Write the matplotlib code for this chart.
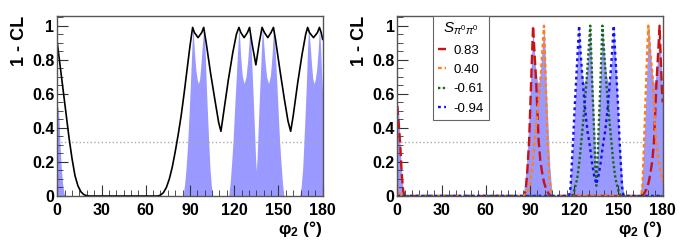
import matplotlib
matplotlib.use('Agg')
import matplotlib.pyplot as plt
from matplotlib.ticker import MultipleLocator

plt.rcParams['font.family'] = ['Liberation Sans', 'DejaVu Sans']
plt.rcParams['mathtext.fontset'] = 'custom'
plt.rcParams['mathtext.rm'] = 'Liberation Sans'
plt.rcParams['mathtext.it'] = 'Liberation Sans:italic'
plt.rcParams['mathtext.bf'] = 'Liberation Sans:bold'

# phi2 scan
fill_x = [0, 0.6, 1.2, 1.8, 2.6, 3.5, 4.5, 5.2,
          85.3, 86.5, 87.5, 88.5, 89.5, 90.5, 91.3, 92, 93, 94, 95, 95.8, 96.6, 97.5, 98.5, 99.5,
          100.3, 101, 101.8, 102.7, 103.5, 104.5, 105.5,
          116.3, 117.3, 118.3, 119.2, 120.2, 121.3, 122.3, 123.3, 124.3, 125.4, 126.7, 128, 129.2,
          130.2, 130.9, 131.8, 132.8, 133.8, 134.5, 135, 135.5, 136.2, 137.2, 138.2, 139.1, 139.8,
          140.8, 142, 143.3, 144.6, 145.7, 146.8, 147.8, 148.8, 149.8, 150.8, 151.7, 152.7, 153.7,
          164.5, 165.5, 166.5, 167.3, 168.2, 169, 169.7, 170.5, 171.4, 172.4, 173.3, 174.1, 174.9,
          175.9, 176.9, 177.9, 178.6, 179.4, 180]
fill_y = [0.53, 0.52, 0.45, 0.32, 0.18, 0.08, 0.02, 0,
          0, 0.08, 0.18, 0.32, 0.5, 0.7, 0.87, 1.0, 0.85, 0.74, 0.68, 0.66, 0.69, 0.78, 0.9, 1.0,
          0.85, 0.67, 0.5, 0.32, 0.17, 0.06, 0,
          0, 0.08, 0.2, 0.32, 0.5, 0.68, 0.85, 1.0, 0.83, 0.71, 0.66, 0.7, 0.8,
          0.92, 1.0, 0.8, 0.6, 0.38, 0.22, 0.15, 0.22, 0.38, 0.6, 0.8, 1.0, 0.92,
          0.8, 0.7, 0.66, 0.71, 0.83, 1.0, 0.85, 0.68, 0.5, 0.32, 0.2, 0.08, 0,
          0, 0.06, 0.17, 0.32, 0.5, 0.67, 0.85, 1.0, 0.9, 0.78, 0.69, 0.66, 0.68,
          0.74, 0.85, 1.0, 0.87, 0.7, 0.6]

black_x = [0, 2, 4, 6, 8, 10, 12, 14, 16, 18, 20, 22, 68, 70, 72, 74, 76, 78, 80, 82, 84, 86, 88, 90,
           91.8, 93, 95.5, 98, 99.3, 101, 104, 107, 109.5, 111, 113, 116, 119, 121.5, 123.2, 124.5,
           126.7, 129, 130.4, 132, 134.7, 137, 138.9, 140.5, 142.8, 145, 146.6, 148, 151, 154, 156.5,
           158.3, 160, 163, 166, 168.5, 169.8, 171, 173.8, 176.5, 177.8, 179, 180]
black_y = [0.9, 0.76, 0.62, 0.48, 0.34, 0.22, 0.12, 0.06, 0.025, 0.008, 0.002, 0, 0, 0.005, 0.02, 0.05,
           0.1, 0.17, 0.26, 0.36, 0.47, 0.6, 0.74, 0.88,
           0.99, 0.96, 0.93, 0.96, 0.99, 0.9, 0.72, 0.56, 0.43, 0.38, 0.5, 0.68, 0.84, 0.95, 0.99, 0.96,
           0.93, 0.96, 0.99, 0.9, 0.77, 0.9, 0.99, 0.96, 0.93, 0.96, 0.99, 0.92, 0.74, 0.57, 0.44,
           0.38, 0.47, 0.66, 0.83, 0.95, 0.99, 0.96, 0.93, 0.96, 0.99, 0.96, 0.92]

red_x = [0, 1, 2, 3, 4, 5, 86, 87, 88, 89.4, 90.5, 91.3, 92.1, 93.2, 94.3, 95.1, 95.9, 97, 98.2, 99.5,
         101, 102.5, 104, 166, 167.5, 169, 170.5, 171.8, 173, 174.1, 174.9, 175.7, 176.8, 177.9,
         178.7, 179.5, 180]
red_y = [0.53, 0.42, 0.3, 0.13, 0.03, 0, 0, 0.03, 0.12, 0.32, 0.6, 0.8, 1.0, 0.82, 0.65, 0.48, 0.32,
         0.21, 0.14, 0.08, 0.04, 0.015, 0, 0, 0.015, 0.04, 0.08, 0.14, 0.21, 0.32, 0.48, 0.65, 0.82,
         1.0, 0.8, 0.62, 0.55]

orange_x = [0, 1, 2, 3, 85.5, 88, 90, 92, 93.2, 94.5, 95.5, 96.8, 98, 99.5, 100.5, 101.8, 103, 104.5,
            165.5, 166.3, 167.4, 168.5, 169.5, 170.3, 171.5, 173.2, 174.3, 175.5, 177, 178.5, 180]
orange_y = [0.06, 0.03, 0.01, 0, 0, 0.02, 0.07, 0.2, 0.32, 0.44, 0.52, 0.65, 0.8, 1.0, 0.72, 0.32,
            0.12, 0, 0, 0.06, 0.32, 0.6, 0.85, 1.0, 0.85, 0.7, 0.5, 0.32, 0.22, 0.15, 0.08]

green_x = [0, 118.5, 120, 122, 123.5, 124.8, 126, 127, 128.3, 129.5, 130.9, 131.7, 132.5, 133.5, 134.3,
           135, 135.7, 136.5, 137.5, 138.3, 139.1, 140.5, 141.7, 143, 144, 145.2, 146.5, 148, 150,
           151.5, 180]
green_y = [0, 0, 0.03, 0.1, 0.2, 0.32, 0.43, 0.53, 0.67, 0.82, 1.0, 0.8, 0.6, 0.38, 0.18,
           0.06, 0.18, 0.38, 0.6, 0.8, 1.0, 0.82, 0.67, 0.53, 0.43, 0.32, 0.2, 0.1, 0.03,
           0, 0]

blue_x = [0, 116.5, 117.5, 118.3, 119.2, 120.2, 121.3, 122.3, 123.3, 124.5, 126, 127.5, 129, 130.5,
          132, 133.5, 135, 136.5, 138, 139.5, 141, 142.5, 144, 145.5, 146.8, 147.8, 148.8, 149.9,
          150.8, 151.7, 152.5, 153.5, 180]
blue_y = [0, 0, 0.05, 0.18, 0.32, 0.5, 0.68, 0.84, 1.0, 0.82, 0.65, 0.5, 0.38, 0.3,
          0.2, 0.12, 0.07, 0.12, 0.2, 0.3, 0.38, 0.5, 0.65, 0.82, 1.0, 0.84, 0.68, 0.5,
          0.32, 0.18, 0.05, 0, 0]

legend_labels = ['0.83', '0.40', '-0.61', '-0.94']
cl_1sigma = 0.317

x_ticks = [0, 30, 60, 90, 120, 150, 180]
y_ticks = [0, 0.2, 0.4, 0.6, 0.8, 1.0]
y_labels = ['0', '0.2', '0.4', '0.6', '0.8', '1']

fig = plt.figure(figsize=(6.81, 2.45), dpi=100)
ax1 = fig.add_axes([0.0841, 0.2, 0.3897, 0.7347])
ax2 = fig.add_axes([0.5834, 0.2, 0.3897, 0.7347])

for ax in [ax1, ax2]:
    ax.fill_between(fill_x, 0, fill_y, color='#9999ff', lw=0)
    ax.axhline(cl_1sigma, color='#aaaaaa', ls=':', lw=1)
    ax.set_xlim(0, 180)
    ax.set_ylim(0, 1.057)
    ax.set_xticks(x_ticks)
    ax.set_yticks(y_ticks)
    ax.set_yticklabels(y_labels)
    ax.xaxis.set_minor_locator(MultipleLocator(5))
    ax.yaxis.set_minor_locator(MultipleLocator(0.05))
    ax.tick_params(which='both', direction='in', top=False, right=False, color='#333333')
    ax.tick_params(which='major', length=8, width=0.8, labelsize=11.5)
    ax.tick_params(which='minor', length=4, width=0.6)
    ax.tick_params(axis='x', pad=5)
    ax.tick_params(axis='y', pad=2)
    for t in ax.get_xticklabels() + ax.get_yticklabels():
        t.set_fontweight('bold')
    for s in ax.spines.values():
        s.set_color('#555555')
        s.set_linewidth(1)
    ax.set_ylabel('1 - CL', loc='top', fontsize=13, fontweight='bold', labelpad=3)
    ax.set_xlabel(r'φ$_\mathbf{2}$ (°)', loc='right', fontsize=12.5, fontweight='bold', labelpad=1)

ax1.plot(black_x, black_y, color='black', lw=1.2)

l1, = ax2.plot(red_x, red_y, color='#cc1111', lw=1.7, dashes=(4, 1.8))
l2, = ax2.plot(orange_x, orange_y, color='#ff7f1e', lw=1.7, dashes=(1.6, 1.2))
l3, = ax2.plot(green_x, green_y, color='#1a661a', lw=1.7, dashes=(1, 1))
l4, = ax2.plot(blue_x, blue_y, color='#1010ee', lw=1.7, dashes=(1.2, 1.4))

leg = ax2.legend([l1, l2, l3, l4], legend_labels, title=r'$S_{\pi^0\pi^0}$',
                 loc='upper left', bbox_to_anchor=(0.135, 1.0), borderaxespad=0,
                 fontsize=9.5, title_fontsize=11, handlelength=0.6, handletextpad=0.6,
                 borderpad=0.35, labelspacing=0.55, fancybox=False, framealpha=1,
                 edgecolor='#666666')
leg.get_frame().set_linewidth(0.8)

fig.savefig('out.png', dpi=100)
